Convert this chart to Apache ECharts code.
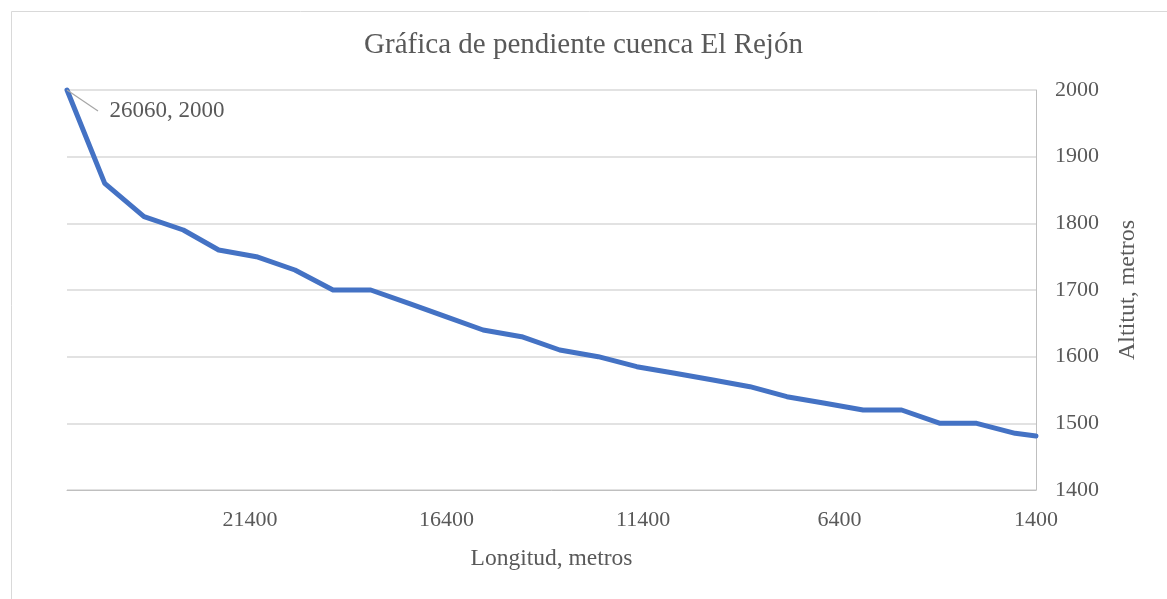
<!DOCTYPE html>
<html>
<head>
<meta charset="UTF-8">
<title>Gráfica de pendiente</title>
<style type="text/css">
html, body {
	width: 100%;
	height: 100%;
	padding: 0px;
	margin: 0px;
	background: #ffffff;
}
</style>
<script src="https://cdn.jsdelivr.net/npm/echarts@6/dist/echarts.min.js"></script>
</head>
<body>
	<div id="chart" style="width: 100%; height: 100%;"></div>

	<script type="text/javascript">
        // longitud (m) y altitud (m)
        var longitud = [26060, 25100, 24100, 23100, 22200, 21240, 20260, 19290, 18330, 17360, 16420, 15470, 14490, 13520, 12540, 11560, 10590, 9620, 8680, 7740, 6770, 5800, 4820, 3840, 2910, 1930, 1400];
        var altitud = [2000, 1860, 1810, 1790, 1760, 1750, 1730, 1700, 1700, 1680, 1660, 1640, 1630, 1610, 1600, 1585, 1575, 1565, 1555, 1540, 1530, 1520, 1520, 1500, 1500, 1485, 1481];

        var titulo = 'Gráfica de pendiente cuenca El Rejón';
        var nombreX = 'Longitud, metros';
        var nombreY = 'Altitut, metros';

        var texto = '#595959';
        var fuente = '"Liberation Serif", "Times New Roman", serif';

        // solo el primer punto lleva etiqueta (espacios = hueco entre guia y texto)
        var puntos = [];
        for (var i = 0; i < longitud.length; i++) {
            var p = { value: [longitud[i], altitud[i]] };
            if (i === 0) {
                p.label = {
                    show: true,
                    formatter: '  ' + longitud[i] + ', ' + altitud[i],
                    position: 'right',
                    distance: 5,
                    color: texto,
                    fontFamily: fuente,
                    fontSize: 23
                };
                p.labelLine = { show: true };
            }
            puntos.push(p);
        }

        var myChart = echarts.init(document.getElementById('chart'));

        myChart.setOption({
            animation: false,
            backgroundColor: '#ffffff',
            title: {
                text: titulo,
                left: 'center',
                top: 26,
                textStyle: { color: texto, fontFamily: fuente, fontSize: 29, fontWeight: 'normal' }
            },
            graphic: [{
                type: 'rect',
                left: 9, top: 9,
                shape: { width: 1200, height: 700 },
                style: { fill: 'none', stroke: '#d9d9d9', lineWidth: 1 },
                silent: true
            }],
            grid: { left: 67, right: 131, top: 90, bottom: 109 },
            xAxis: {
                type: 'value',
                inverse: true,
                min: 1400,
                max: 26060,
                interval: 5000,
                name: nombreX,
                nameLocation: 'middle',
                nameGap: 57,
                nameTextStyle: { color: texto, fontFamily: fuente, fontSize: 23.5 },
                axisLine: { show: true, lineStyle: { color: '#bfbfbf', width: 1 } },
                axisTick: { show: false },
                splitLine: { show: false },
                axisLabel: {
                    color: texto, fontFamily: fuente, fontSize: 22, margin: 19, showMaxLabel: false,
                    formatter: function (v) { return String(v); }
                }
            },
            yAxis: {
                type: 'value',
                position: 'right',
                min: 1400,
                max: 2000,
                interval: 100,
                name: nombreY,
                nameLocation: 'middle',
                nameRotate: 90,
                nameGap: 80,
                nameTextStyle: { color: texto, fontFamily: fuente, fontSize: 24 },
                axisLine: { show: true, lineStyle: { color: '#bfbfbf', width: 1 } },
                axisTick: { show: false },
                splitLine: { show: true, lineStyle: { color: '#d9d9d9', width: 1.5 } },
                axisLabel: {
                    color: texto, fontFamily: fuente, fontSize: 22, margin: 19,
                    formatter: function (v) { return String(v); }
                }
            },
            series: [{
                type: 'line',
                data: puntos,
                symbol: 'circle',
                symbolSize: 0,
                showSymbol: true,
                showAllSymbol: true,
                clip: false,
                itemStyle: { color: '#4472c4' },
                lineStyle: { color: '#4472c4', width: 5, join: 'round', cap: 'round' },
                labelLayout: { dx: 26, dy: 21 },
                labelLine: { show: false, lineStyle: { color: '#a6a6a6', width: 1.2 } }
            }]
        });
	</script>
</body>
</html>
